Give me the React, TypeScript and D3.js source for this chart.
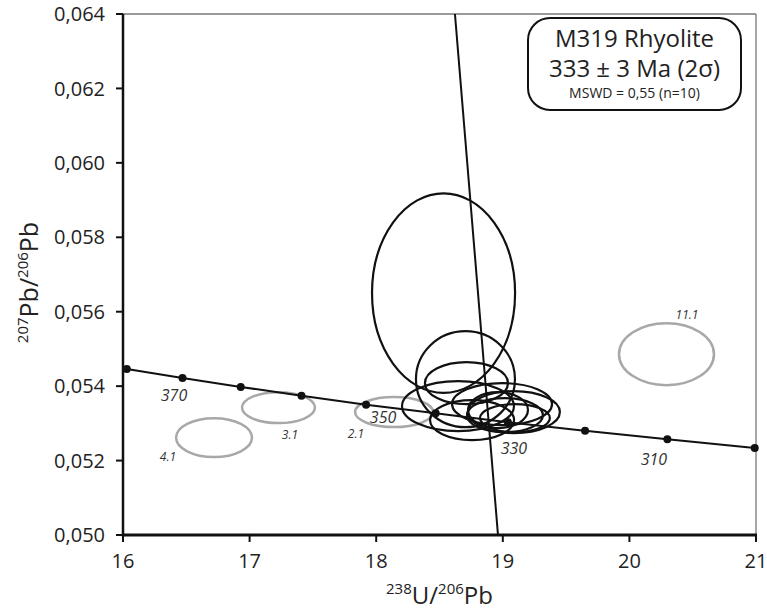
import React from "react";
import * as d3 from "d3";

// ---- Data ----
const xTicks = [16, 17, 18, 19, 20, 21];
const yTicks = [0.05, 0.052, 0.054, 0.056, 0.058, 0.06, 0.062, 0.064];

// Concordia reference points (age in Ma, 238U/206Pb, 207Pb/206Pb)
const concAges = [390, 380, 370, 360, 350, 340, 330, 320, 310, 300];
const concX = [16.03, 16.47, 16.93, 17.41, 17.92, 18.47, 19.04, 19.65, 20.3, 20.99];
const concY = [0.05446, 0.05422, 0.05398, 0.05374, 0.0535, 0.05327, 0.05303, 0.0528, 0.05257, 0.05234];

// Concordant analyses (black ellipses): centre x, centre y, half-width x, half-width y
const ellX = [18.532, 18.705, 18.713, 18.646, 18.757, 18.994, 19.088, 19.017, 19.096, 18.962];
const ellY = [0.0565, 0.054188, 0.054081, 0.053463, 0.053087, 0.053517, 0.053302, 0.053221, 0.053141, 0.053356];
const ellSX = [0.565, 0.391, 0.328, 0.442, 0.332, 0.395, 0.363, 0.3, 0.276, 0.237];
const ellSY = [0.00268, 0.00129, 0.000564, 0.000671, 0.000537, 0.000564, 0.000564, 0.000456, 0.000376, 0.000483];

// Excluded analyses (grey ellipses)
const exNames = ["4.1", "3.1", "2.1", "11.1"];
const exX = [16.719, 17.228, 18.141, 20.293];
const exY = [0.052617, 0.053423, 0.053302, 0.054859];
const exSX = [0.3, 0.288, 0.308, 0.375];
const exSY = [0.000523, 0.000416, 0.000403, 0.000832];
const exLabelX = [16.355, 17.319, 17.84, 20.455];
const exLabelY = [0.052094, 0.052685, 0.052711, 0.055906];

// Age labels along concordia
const ageLabels = ["370", "350", "330", "310"];
const ageLabelX = [16.403, 18.054, 19.088, 20.194];
const ageLabelY = [0.053758, 0.053168, 0.052336, 0.05204];

// Regression line end points
const regX = [18.622, 18.962];
const regY = [0.064, 0.05];

const titleLines = ["M319 Rhyolite", "333  \u00b1 3 Ma (2\u03c3)", "MSWD = 0,55 (n=10)"];

const W = 767;
const H = 615;
const L = 123, R = 756, T = 14, B = 535;
const FONT = "'Open Sans', 'Noto Sans', sans-serif";

export default function App() {
  const x = d3.scaleLinear().domain([16, 21]).range([L, R]);
  const y = d3.scaleLinear().domain([0.05, 0.064]).range([B, T]);

  const concPts = concX.map((v, i) => [v, concY[i]] as [number, number]).sort((a, b) => a[0] - b[0]);
  const concLine = d3
    .line<[number, number]>()
    .x((d) => x(d[0]))
    .y((d) => y(d[1]))
    .curve(d3.curveMonotoneX);

  const fmt = (v: number) => v.toFixed(3).replace(".", ",");

  return (
    <svg
      width={W}
      height={H}
      style={{ position: "absolute", left: 0, top: 0, background: "#fff" }}
      fontFamily={FONT}
    >
      <defs>
        <clipPath id="plotClip">
          <rect x={L} y={T} width={R - L} height={B - T} />
        </clipPath>
      </defs>
      <rect x={0} y={0} width={W} height={H} fill="#fff" />

      {/* frame */}
      <line x1={L} x2={R} y1={T} y2={T} stroke="#777" strokeWidth={1.3} />
      <line x1={R} x2={R} y1={T} y2={B} stroke="#777" strokeWidth={1.3} />

      <g clipPath="url(#plotClip)">
        {/* grey excluded ellipses */}
        {exX.map((cx, i) => (
          <ellipse
            key={"ex" + i}
            cx={x(cx)}
            cy={y(exY[i])}
            rx={x(cx + exSX[i]) - x(cx)}
            ry={y(exY[i]) - y(exY[i] + exSY[i])}
            fill="none"
            stroke="#a8a8a8"
            strokeWidth={2.5}
          />
        ))}

        {/* concordia */}
        <path d={concLine(concPts) || ""} fill="none" stroke="#111" strokeWidth={2} />

        {/* black ellipses */}
        {ellX.map((cx, i) => (
          <ellipse
            key={"el" + i}
            cx={x(cx)}
            cy={y(ellY[i])}
            rx={x(cx + ellSX[i]) - x(cx)}
            ry={y(ellY[i]) - y(ellY[i] + ellSY[i])}
            fill="none"
            stroke="#111"
            strokeWidth={2.2}
          />
        ))}

        {/* regression line */}
        <line
          x1={x(regX[0])}
          y1={y(regY[0])}
          x2={x(regX[1])}
          y2={y(regY[1])}
          stroke="#111"
          strokeWidth={2}
        />
      </g>

      {/* concordia age dots */}
      {concX.map((cx, i) => (
        <circle key={"d" + concAges[i]} cx={x(cx)} cy={y(concY[i])} r={4} fill="#111" />
      ))}

      {/* age labels */}
      {ageLabels.map((t, i) => (
        <text
          key={"a" + t}
          x={x(ageLabelX[i])}
          y={y(ageLabelY[i])}
          dy="0.35em"
          textAnchor="middle"
          fontStyle="italic"
          fontSize={16}
          fill="#333"
        >
          {t}
        </text>
      ))}

      {/* excluded labels */}
      {exNames.map((t, i) => (
        <text
          key={"n" + t}
          x={x(exLabelX[i])}
          y={y(exLabelY[i])}
          dy="0.35em"
          textAnchor="middle"
          fontStyle="italic"
          fontSize={12}
          fill="#333"
        >
          {t}
        </text>
      ))}

      {/* axes */}
      <line x1={L} x2={L} y1={T} y2={B + 1.5} stroke="#111" strokeWidth={2.5} />
      <line x1={L - 1} x2={R + 1} y1={B} y2={B} stroke="#111" strokeWidth={3} />
      {yTicks.map((v) => (
        <g key={"yt" + v}>
          <line x1={L - 7} x2={L} y1={y(v)} y2={y(v)} stroke="#111" strokeWidth={2} />
          <text x={L - 18} y={y(v)} dy="0.36em" textAnchor="end" fontSize={20} fill="#222">
            {fmt(v)}
          </text>
        </g>
      ))}
      {xTicks.map((v) => (
        <g key={"xt" + v}>
          <line x1={x(v)} x2={x(v)} y1={B} y2={B + 7} stroke="#111" strokeWidth={2} />
          <text x={x(v)} y={568} textAnchor="middle" fontSize={20} fill="#222">
            {v}
          </text>
        </g>
      ))}

      {/* axis titles */}
      <text x={(L + R) / 2} y={604} textAnchor="middle" fontSize={24} fill="#222">
        <tspan fontSize={15} dy={-10}>238</tspan>
        <tspan dy={10}>U/</tspan>
        <tspan fontSize={15} dy={-10}>206</tspan>
        <tspan dy={10}>Pb</tspan>
      </text>
      <text
        transform={`translate(38, ${(T + B) / 2 + 8}) rotate(-90)`}
        textAnchor="middle"
        fontSize={25}
        fill="#222"
      >
        <tspan fontSize={15} dy={-10}>207</tspan>
        <tspan dy={10}>Pb/</tspan>
        <tspan fontSize={15} dy={-10}>206</tspan>
        <tspan dy={10}>Pb</tspan>
      </text>

      {/* title box */}
      <rect x={528} y={18} width={213} height={92} rx={22} ry={22} fill="#fff" stroke="#111" strokeWidth={2} />
      <text x={634.5} y={47} textAnchor="middle" fontSize={24} fill="#222">
        {titleLines[0]}
      </text>
      <text x={634.5} y={77} textAnchor="middle" fontSize={24} fill="#222">
        {titleLines[1]}
      </text>
      <text x={634.5} y={98} textAnchor="middle" fontSize={14} fill="#222">
        {titleLines[2]}
      </text>
    </svg>
  );
}
